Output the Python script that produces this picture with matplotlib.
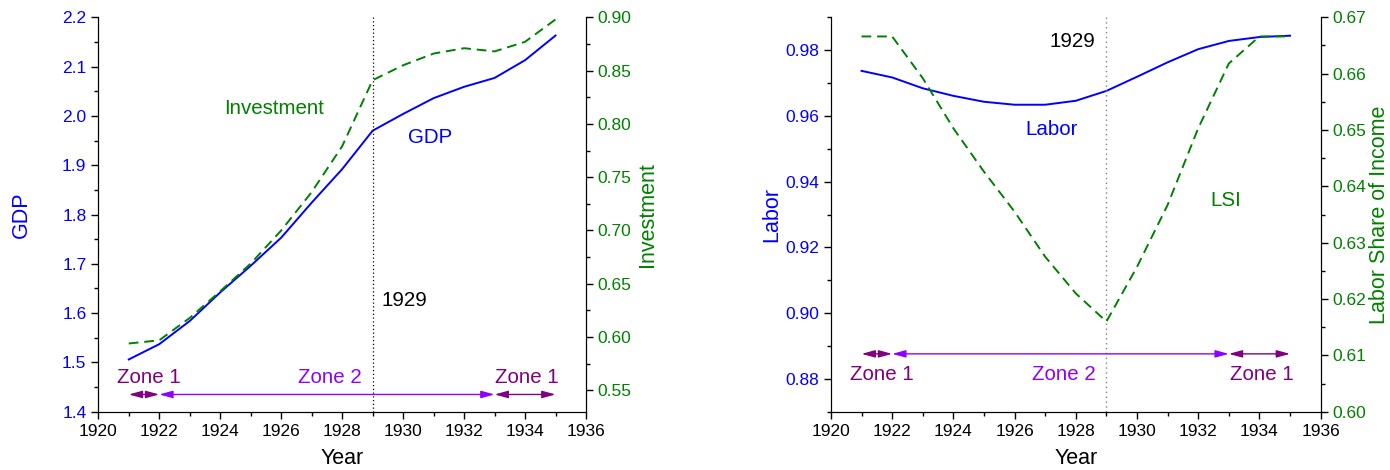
import matplotlib
matplotlib.use("Agg")
import matplotlib.pyplot as plt
from matplotlib.ticker import MultipleLocator, FormatStrFormatter

plt.rcParams['font.family'] = ['Liberation Sans', 'DejaVu Sans']

# data
years = [1921, 1922, 1923, 1924, 1925, 1926, 1927, 1928,
         1929, 1930, 1931, 1932, 1933, 1934, 1935]
gdp = [1.506, 1.537, 1.584, 1.642, 1.696, 1.753, 1.824, 1.892,
       1.970, 2.004, 2.036, 2.059, 2.077, 2.113, 2.163]
investment = [0.594, 0.597, 0.618, 0.643, 0.669, 0.700, 0.736, 0.779,
              0.841, 0.855, 0.866, 0.871, 0.868, 0.877, 0.898]
labor = [0.9737, 0.9717, 0.9684, 0.9661, 0.9643, 0.9634, 0.9634, 0.9646,
         0.9676, 0.9719, 0.9763, 0.9803, 0.9828, 0.9840, 0.9844]
lsi = [0.6666, 0.6666, 0.6592, 0.6503, 0.6426, 0.6355, 0.6275, 0.6210,
       0.6160, 0.6257, 0.6367, 0.6503, 0.6618, 0.6666, 0.6666]

# zones: (start, end, label, colour)
zones = [(1921, 1922, "Zone 1", "#800080"),
         (1922, 1933, "Zone 2", "#9000ff"),
         (1933, 1935, "Zone 1", "#800080")]
zone_label_x = [1921.65, 1927.6, 1934.07]

BLUE = "#0000ff"
GREEN = "#008000"
TICK_FS = 12.5
LABEL_FS = 15.5
TEXT_FS = 14.8

fig = plt.figure(figsize=(13.9, 4.7), dpi=100)
ax1 = fig.add_axes([0.0707, 0.124, 0.3509, 0.8392])
ax2 = fig.add_axes([0.5978, 0.124, 0.3523, 0.8392])


def style_axes(ax, axr):
    for a in (ax, axr):
        a.spines['top'].set_visible(False)
        a.tick_params(which='major', direction='out', length=5, width=1.0, labelsize=TICK_FS)
        a.tick_params(which='minor', direction='out', length=3, width=1.0)
    ax.set_xlim(1920, 1936)
    ax.xaxis.set_major_locator(MultipleLocator(2))
    ax.xaxis.set_minor_locator(MultipleLocator(1))
    ax.set_xlabel("Year", fontsize=LABEL_FS, labelpad=7)


def draw_zones(ax, y_arrow, y_text):
    for (x0, x1, name, col), tx in zip(zones, zone_label_x):
        ax.annotate("", xy=(x0, y_arrow), xytext=(x1, y_arrow),
                    arrowprops=dict(arrowstyle="<|-|>,head_length=0.8,head_width=0.22",
                                    color=col, lw=1.0, shrinkA=0, shrinkB=0,
                                    mutation_scale=10))
        ax.text(tx, y_text, name, color=col, fontsize=TEXT_FS, ha='center', va='center')


# ---- left panel: GDP and Investment
ax1r = ax1.twinx()
ax1.plot(years, gdp, color=BLUE, lw=1.4)
ax1r.plot(years, investment, color=GREEN, lw=1.4, ls=(0, (5, 3)))
ax1.axvline(1929, color='black', lw=0.9, ls=(0, (1, 2)))

ax1.set_ylim(1.4, 2.2)
ax1.yaxis.set_major_locator(MultipleLocator(0.1))
ax1.yaxis.set_minor_locator(MultipleLocator(0.05))
ax1.yaxis.set_major_formatter(FormatStrFormatter('%.1f'))
ax1r.set_ylim(0.53, 0.90)
ax1r.yaxis.set_major_locator(MultipleLocator(0.05))
ax1r.yaxis.set_minor_locator(MultipleLocator(0.025))
ax1r.yaxis.set_major_formatter(FormatStrFormatter('%.2f'))
style_axes(ax1, ax1r)
ax1.tick_params(axis='y', labelcolor=BLUE)
ax1r.tick_params(axis='y', labelcolor=GREEN)
ax1.set_ylabel("GDP", color=BLUE, fontsize=LABEL_FS, labelpad=22)
ax1r.set_ylabel("Investment", color=GREEN, fontsize=LABEL_FS, labelpad=4)

ax1.text(1925.77, 2.014, "Investment", color=GREEN, fontsize=TEXT_FS, ha='center', va='center')
ax1.text(1930.9, 1.957, "GDP", color=BLUE, fontsize=TEXT_FS, ha='center', va='center')
ax1.text(1930.05, 1.625, "1929", color='black', fontsize=TEXT_FS, ha='center', va='center')
draw_zones(ax1, 1.435, 1.470)

# ---- right panel: Labor and Labor Share of Income
ax2r = ax2.twinx()
ax2.plot(years, labor, color=BLUE, lw=1.4)
ax2r.plot(years, lsi, color=GREEN, lw=1.4, ls=(0, (5, 3)))
ax2.axvline(1929, color='gray', lw=1.0, ls=(0, (1, 2.5)))

ax2.set_ylim(0.87, 0.99)
ax2.yaxis.set_major_locator(MultipleLocator(0.02))
ax2.yaxis.set_minor_locator(MultipleLocator(0.01))
ax2.yaxis.set_major_formatter(FormatStrFormatter('%.2f'))
ax2r.set_ylim(0.60, 0.67)
ax2r.yaxis.set_major_locator(MultipleLocator(0.01))
ax2r.yaxis.set_minor_locator(MultipleLocator(0.005))
ax2r.yaxis.set_major_formatter(FormatStrFormatter('%.2f'))
style_axes(ax2, ax2r)
ax2.tick_params(axis='y', labelcolor=BLUE)
ax2r.tick_params(axis='y', labelcolor=GREEN)
ax2.set_ylabel("Labor", color=BLUE, fontsize=LABEL_FS, labelpad=2)
ax2r.set_ylabel("Labor Share of Income", color=GREEN, fontsize=LABEL_FS, labelpad=2)

ax2.text(1927.9, 0.9826, "1929", color='black', fontsize=TEXT_FS, ha='center', va='center')
ax2.text(1927.2, 0.9559, "Labor", color=BLUE, fontsize=TEXT_FS, ha='center', va='center')
ax2.text(1932.9, 0.9344, "LSI", color=GREEN, fontsize=TEXT_FS, ha='center', va='center')
draw_zones(ax2, 0.8876, 0.8812)

fig.savefig("out.png", dpi=100)
